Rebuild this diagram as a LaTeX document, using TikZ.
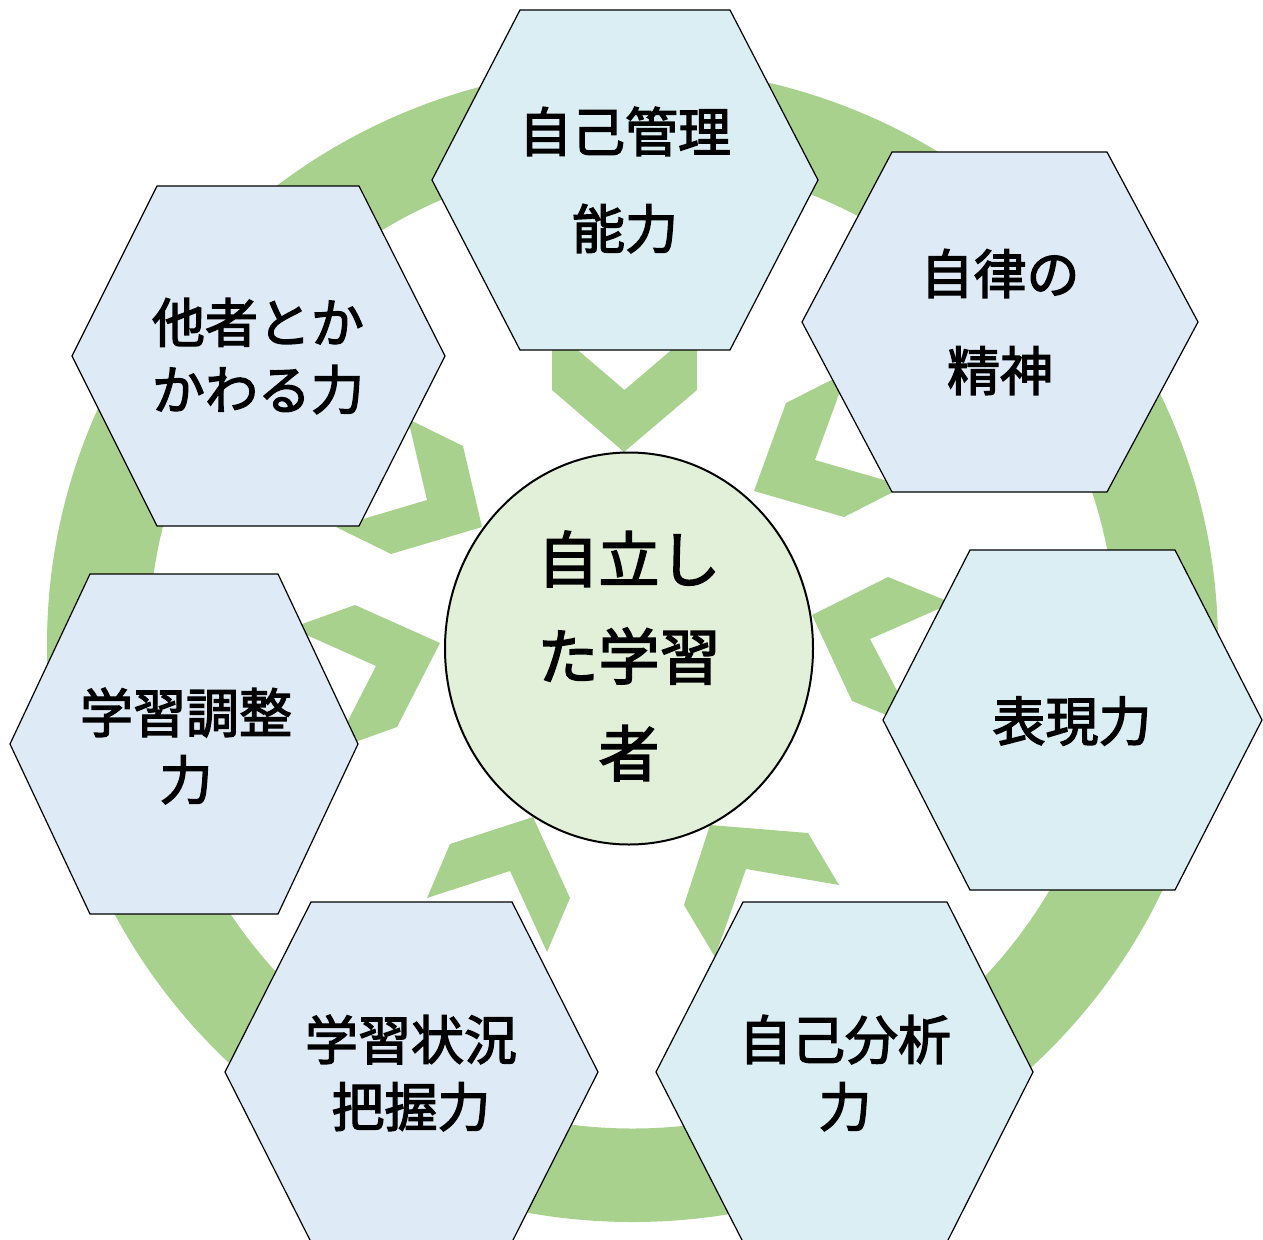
\documentclass[tikz,border=0pt]{standalone}
\usepackage{fontspec}
\setmainfont{Noto Sans CJK JP}
\newfontfamily\jpmedium{Noto Sans CJK JP}[FakeBold=2.5]
\usetikzlibrary{shapes.geometric}
\definecolor{ringgreen}{HTML}{A9D18E}
\definecolor{hexcyan}{HTML}{DAEEF3}
\definecolor{hexblue}{HTML}{DEEBF7}
\definecolor{hubgreen}{HTML}{E2F0D9}
\begin{document}
\begin{tikzpicture}[x=1pt,y=-1pt,
  ringband/.style={fill=ringgreen, even odd rule},
  chev/.style={fill=ringgreen},
  hexa/.style={fill=hexcyan, draw=black, line width=1.2pt, line join=miter},
  hexb/.style={fill=hexblue, draw=black, line width=1.2pt, line join=miter},
  hub/.style={ellipse, fill=hubgreen, draw=black, line width=2pt, inner sep=0pt},
  lbl/.style={align=center, inner sep=0pt, font=\jpmedium\fontsize{53}{67}\selectfont},
  lblwide/.style={align=center, inner sep=0pt, font=\jpmedium\fontsize{53}{97}\selectfont},
  hublbl/.style={align=center, inner sep=0pt, font=\jpmedium\fontsize{61}{97}\selectfont}]
\useasboundingbox (0,0) rectangle (1263,1239);
\clip (0,0) rectangle (1263,1239);
% ring
\fill[ringband] (632.5,644.5) ellipse [x radius=585.5pt, y radius=577.5pt]
                (632.5,644.5) ellipse [x radius=484pt, y radius=484pt];
% chevrons pointing to the centre
\fill[chev] (624,452) -- (552,390) -- (552,328) -- (624.5,390) -- (697,328) -- (697,390) -- cycle;
\fill[chev] (754,491) -- (786,403) -- (847,372) -- (815,460) -- (905,486) -- (844,517) -- cycle;
\fill[chev] (812,615) -- (888,577) -- (952,603) -- (870,639) -- (916,727) -- (852,701) -- cycle;
\fill[chev] (710,825) -- (808,833) -- (839,885) -- (746,869) -- (715,957) -- (684,905) -- cycle;
\fill[chev] (533,817) -- (450,844) -- (427,898) -- (510,871) -- (547,952) -- (570,898) -- cycle;
\fill[chev] (440,643) -- (355,605) -- (291,628) -- (376,666) -- (333,750) -- (397,727) -- cycle;
\fill[chev] (482,527) -- (463,446) -- (408,419) -- (427,500) -- (336,527) -- (391,554) -- cycle;
% centre
\node[hub, minimum width=368pt, minimum height=392pt] (hub) at (629,648.5) {};
\node[hublbl] (hubtext) at (629,656) {自立し\\た学習\\者};
% hexagons
\draw[hexa] (432,180) -- (520,10) -- (730,10) -- (818,180) -- (730,350) -- (520,350) -- cycle;
\draw[hexb] (802,322) -- (892,152) -- (1107,152) -- (1198,322) -- (1107,492) -- (892,492) -- cycle;
\draw[hexa] (883,720) -- (970,550) -- (1175,550) -- (1262,720) -- (1175,890) -- (970,890) -- cycle;
\draw[hexa] (656,1072) -- (743,902) -- (947,902) -- (1033,1072) -- (947,1242) -- (743,1242) -- cycle;
\draw[hexb] (225,1072) -- (311,902) -- (512,902) -- (598,1072) -- (512,1242) -- (311,1242) -- cycle;
\draw[hexb] (10,744) -- (90,574) -- (278,574) -- (358,744) -- (278,914) -- (90,914) -- cycle;
\draw[hexb] (72,356) -- (157,186) -- (359,186) -- (445,356) -- (359,526) -- (157,526) -- cycle;
% labels
\node[lblwide] (h1) at (625,180) {自己管理\\能力};
\node[lblwide] (h2) at (1000,322) {自律の\\精神};
\node[lbl] (h3) at (1072,721) {表現力};
\node[lbl] (h4) at (845,1073) {自己分析\\力};
\node[lbl] (h5) at (411,1073) {学習状況\\把握力};
\node[lbl] (h6) at (186,746) {学習調整\\力};
\node[lbl] (h7) at (258,356) {他者とか\\かわる力};
\end{tikzpicture}
\end{document}
